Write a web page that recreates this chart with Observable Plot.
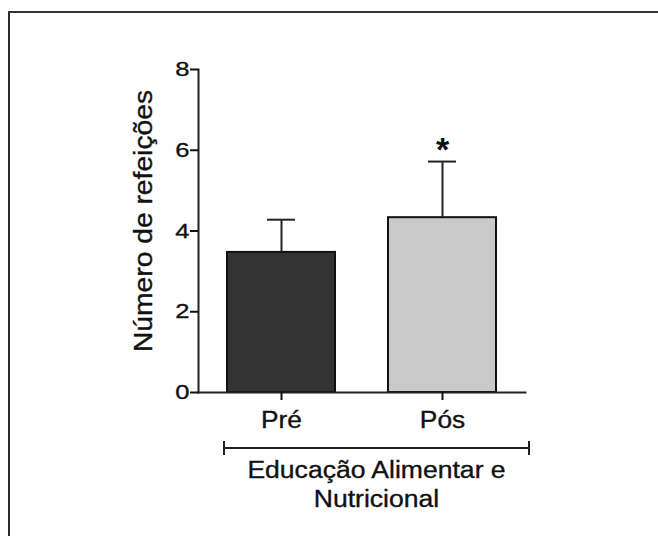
<!DOCTYPE html>
<html><head><meta charset="utf-8">
<script src="https://cdn.jsdelivr.net/npm/d3@7"></script>
<script src="https://cdn.jsdelivr.net/npm/@observablehq/plot@0.6"></script>
<style>
html,body{margin:0;padding:0;background:#fff;}
#wrap{position:relative;width:658px;height:536px;overflow:hidden;}
#border{position:absolute;left:8px;top:11px;right:-10px;bottom:-10px;border-top:2px solid #333;border-left:2px solid #2a2a2a;}
#chart{position:absolute;left:0;top:0;}
</style></head><body>
<div id="wrap"><div id="border"></div><div id="chart"></div></div>
<script>
const groups = ["Pré", "Pós"];
const means = [3.47, 4.33];
const upper = [4.28, 5.72];
const sigMarks = ["", "*"];
const yTicks = [0, 2, 4, 6, 8];
const yLabel = "Número de refeições";
const caption = ["Educação Alimentar e", "Nutricional"];
const fills = ["#333333", "#c9c9c9"];

const data = groups.map((g, i) => ({group: g, mean: means[i], upper: upper[i], sig: sigMarks[i]}));
const FONT = "'Liberation Sans', Arial, Helvetica, sans-serif";
const INK = "#111";

const plot = Plot.plot({
  width: 658, height: 536,
  marginLeft: 198, marginRight: 133, marginTop: 69, marginBottom: 144,
  style: {fontFamily: FONT, color: INK, background: "transparent", overflow: "visible"},
  x: {domain: groups, paddingInner: 0.33, paddingOuter: 0.175, label: null},
  y: {domain: [0, 8], ticks: yTicks, label: null},
  color: {domain: groups, range: fills},
  marks: [
    Plot.barY(data, {x: "group", y: "mean", fill: "group", stroke: "#111", strokeWidth: 2}),
    Plot.ruleX(data, {x: "group", y1: "mean", y2: "upper", stroke: "#222", strokeWidth: 2}),
    Plot.tickY(data, {x: "group", y: "upper", stroke: "#222", strokeWidth: 2, inset: 40}),
    Plot.text(data, {x: "group", y: "upper", text: "sig", dy: -1, lineAnchor: "bottom", fontSize: 34, fontWeight: "bold", fill: INK}),
    Plot.frame({anchor: "left", stroke: "#222", strokeWidth: 2}),
    Plot.frame({anchor: "bottom", stroke: "#222", strokeWidth: 2}),
    Plot.axisY({ticks: yTicks, tickSize: 8, tickPadding: 1, fontSize: 21, tickFormat: d => String(d), color: INK, strokeWidth: 2, label: null}),
    Plot.axisX({tickSize: 8, tickPadding: 11, fontSize: 23.5, color: INK, strokeWidth: 2, label: null})
  ]
});
document.getElementById("chart").appendChild(plot);

const svg = d3.select(plot);

// glyphs in the reference are horizontally wide: stretch text in its own direction
function widen(sel, s) {
  sel.each(function () {
    const el = this;
    let tr = el.getAttribute("transform");
    if (!tr) {
      const x = +el.getAttribute("x") || 0, y = +el.getAttribute("y") || 0;
      el.removeAttribute("x"); el.removeAttribute("y");
      tr = `translate(${x},${y})`;
    }
    el.setAttribute("transform", tr + ` scale(${s},1)`);
    el.setAttribute("stroke", INK);
    el.setAttribute("stroke-width", 0.35);
  });
}
widen(svg.selectAll('g[aria-label="y-axis tick label"] text'), 1.22);
widen(svg.selectAll('g[aria-label="x-axis tick label"] text'), 1.12);

// annotations: group bracket, caption and y label
const xs = plot.scale("x");
const left = xs.apply(groups[0]) - 3;
const right = xs.range[1] + 4;
const by = 448;
const g = svg.append("g").attr("stroke", "#222").attr("stroke-width", 2);
g.append("line").attr("x1", left).attr("x2", right).attr("y1", by).attr("y2", by);
g.append("line").attr("x1", left).attr("x2", left).attr("y1", by - 7).attr("y2", by + 7);
g.append("line").attr("x1", right).attr("x2", right).attr("y1", by - 7).attr("y2", by + 7);
const cx = (left + right) / 2;
const t = svg.append("g").attr("font-family", FONT).attr("fill", INK).attr("text-anchor", "middle")
  .attr("font-size", 23.5).attr("stroke", INK).attr("stroke-width", 0.35);
t.append("text").attr("transform", `translate(${cx},478) scale(1.13,1)`).text(caption[0]);
t.append("text").attr("transform", `translate(${cx},507) scale(1.13,1)`).text(caption[1]);
svg.append("text").attr("font-family", FONT).attr("fill", INK).attr("text-anchor", "middle")
  .attr("font-size", 25).attr("stroke", INK).attr("stroke-width", 0.35)
  .attr("transform", "translate(152,221) rotate(-90) scale(1.13,1)").text(yLabel);
</script>
</body></html>
